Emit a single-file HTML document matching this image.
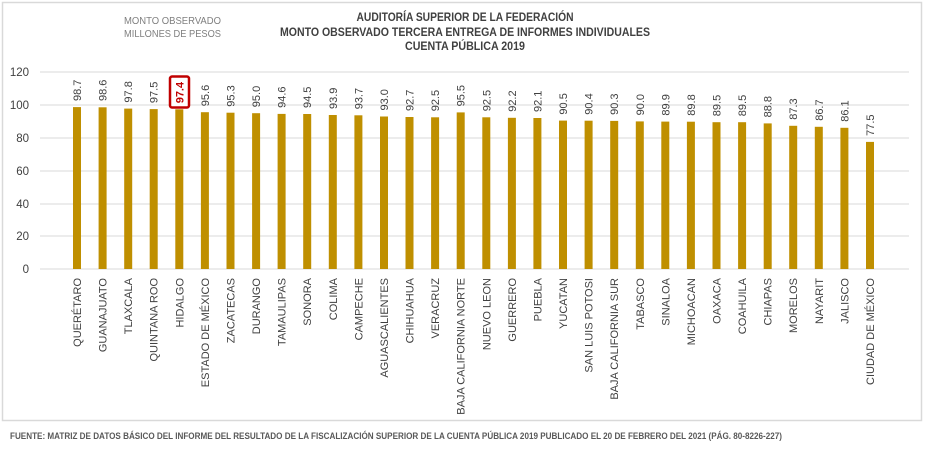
<!DOCTYPE html>
<html><head><meta charset="utf-8"><style>
html,body{margin:0;padding:0;background:#fff;}
svg{display:block;font-family:"Liberation Sans Narrow","Liberation Sans",sans-serif;}
.v{font-size:11px;fill:#404040;}
.c{font-size:11px;fill:#404040;text-anchor:end;}
.b{fill:#BF8F00;}
.g{stroke:#d9d9d9;stroke-width:1;}
.t{font-size:12px;font-weight:bold;fill:#404040;text-anchor:middle;}
.y{font-size:11.5px;fill:#404040;text-anchor:end;}
</style></head><body>
<svg width="929" height="464" viewBox="0 0 929 464">
<rect x="2.5" y="2.5" width="919" height="418" fill="#fff" stroke="#d9d9d9" stroke-width="1.5"/>
<text x="124" y="24" textLength="97" lengthAdjust="spacingAndGlyphs" style="font-size:10.5px;fill:#7f7f7f">MONTO OBSERVADO</text>
<text x="124" y="37" textLength="97" lengthAdjust="spacingAndGlyphs" style="font-size:10.5px;fill:#7f7f7f">MILLONES DE PESOS</text>
<text class="t" x="465" y="21" textLength="217" lengthAdjust="spacingAndGlyphs">AUDITORÍA SUPERIOR DE LA FEDERACIÓN</text>
<text class="t" x="465" y="36" textLength="370" lengthAdjust="spacingAndGlyphs">MONTO OBSERVADO TERCERA ENTREGA DE INFORMES INDIVIDUALES</text>
<text class="t" x="465" y="50" textLength="120" lengthAdjust="spacingAndGlyphs">CUENTA PÚBLICA 2019</text>
<line class="g" x1="40" x2="909" y1="72" y2="72"/>
<line class="g" x1="40" x2="909" y1="105" y2="105"/>
<line class="g" x1="40" x2="909" y1="138" y2="138"/>
<line class="g" x1="40" x2="909" y1="171" y2="171"/>
<line class="g" x1="40" x2="909" y1="204" y2="204"/>
<line class="g" x1="40" x2="909" y1="236" y2="236"/>
<line class="g" x1="40" x2="909" y1="269" y2="269"/>
<text class="y" x="29" y="76">120</text>
<text class="y" x="29" y="109">100</text>
<text class="y" x="29" y="142">80</text>
<text class="y" x="29" y="175">60</text>
<text class="y" x="29" y="208">40</text>
<text class="y" x="29" y="240">20</text>
<text class="y" x="29" y="273">0</text>
<g>
<rect class="b" x="73" y="107.1" width="8" height="161.9"/>
<rect class="b" x="98.6" y="107.3" width="8" height="161.7"/>
<rect class="b" x="124.2" y="108.6" width="8" height="160.4"/>
<rect class="b" x="149.7" y="109.1" width="8" height="159.9"/>
<rect class="b" x="175.3" y="109.3" width="8" height="159.7"/>
<rect class="b" x="200.9" y="112.2" width="8" height="156.8"/>
<rect class="b" x="226.5" y="112.7" width="8" height="156.3"/>
<rect class="b" x="252.1" y="113.2" width="8" height="155.8"/>
<rect class="b" x="277.6" y="113.9" width="8" height="155.1"/>
<rect class="b" x="303.2" y="114" width="8" height="155"/>
<rect class="b" x="328.8" y="115" width="8" height="154"/>
<rect class="b" x="354.4" y="115.3" width="8" height="153.7"/>
<rect class="b" x="380" y="116.5" width="8" height="152.5"/>
<rect class="b" x="405.5" y="117" width="8" height="152"/>
<rect class="b" x="431.1" y="117.3" width="8" height="151.7"/>
<rect class="b" x="456.7" y="112.4" width="8" height="156.6"/>
<rect class="b" x="482.3" y="117.3" width="8" height="151.7"/>
<rect class="b" x="507.9" y="117.8" width="8" height="151.2"/>
<rect class="b" x="533.4" y="118" width="8" height="151"/>
<rect class="b" x="559" y="120.6" width="8" height="148.4"/>
<rect class="b" x="584.6" y="120.7" width="8" height="148.3"/>
<rect class="b" x="610.2" y="120.9" width="8" height="148.1"/>
<rect class="b" x="635.8" y="121.4" width="8" height="147.6"/>
<rect class="b" x="661.3" y="121.6" width="8" height="147.4"/>
<rect class="b" x="686.9" y="121.7" width="8" height="147.3"/>
<rect class="b" x="712.5" y="122.2" width="8" height="146.8"/>
<rect class="b" x="738.1" y="122.2" width="8" height="146.8"/>
<rect class="b" x="763.7" y="123.4" width="8" height="145.6"/>
<rect class="b" x="789.2" y="125.8" width="8" height="143.2"/>
<rect class="b" x="814.8" y="126.8" width="8" height="142.2"/>
<rect class="b" x="840.4" y="127.8" width="8" height="141.2"/>
<rect class="b" x="866" y="141.9" width="8" height="127.1"/>
</g>
<rect x="170" y="76.5" width="19" height="31" rx="2" fill="#fff" stroke="#C00000" stroke-width="2.5"/>
<g>
<text class="v" transform="translate(81,101) rotate(-90)">98.7</text>
<text class="v" transform="translate(106.6,101) rotate(-90)">98.6</text>
<text class="v" transform="translate(132.2,102.6) rotate(-90)">97.8</text>
<text class="v" transform="translate(157.7,103.1) rotate(-90)">97.5</text>
<text class="v" transform="translate(183.3,103.3) rotate(-90)" style="fill:#C00000;font-weight:bold">97.4</text>
<text class="v" transform="translate(208.9,106.2) rotate(-90)">95.6</text>
<text class="v" transform="translate(234.5,106.7) rotate(-90)">95.3</text>
<text class="v" transform="translate(260.1,107.2) rotate(-90)">95.0</text>
<text class="v" transform="translate(285.6,107.9) rotate(-90)">94.6</text>
<text class="v" transform="translate(311.2,108) rotate(-90)">94.5</text>
<text class="v" transform="translate(336.8,109) rotate(-90)">93.9</text>
<text class="v" transform="translate(362.4,109.3) rotate(-90)">93.7</text>
<text class="v" transform="translate(388,110.5) rotate(-90)">93.0</text>
<text class="v" transform="translate(413.5,111) rotate(-90)">92.7</text>
<text class="v" transform="translate(439.1,111.3) rotate(-90)">92.5</text>
<text class="v" transform="translate(464.7,106.4) rotate(-90)">95.5</text>
<text class="v" transform="translate(490.3,111.3) rotate(-90)">92.5</text>
<text class="v" transform="translate(515.9,111.8) rotate(-90)">92.2</text>
<text class="v" transform="translate(541.4,112) rotate(-90)">92.1</text>
<text class="v" transform="translate(567,114.6) rotate(-90)">90.5</text>
<text class="v" transform="translate(592.6,114.7) rotate(-90)">90.4</text>
<text class="v" transform="translate(618.2,114.9) rotate(-90)">90.3</text>
<text class="v" transform="translate(643.8,115.4) rotate(-90)">90.0</text>
<text class="v" transform="translate(669.3,115.6) rotate(-90)">89.9</text>
<text class="v" transform="translate(694.9,115.7) rotate(-90)">89.8</text>
<text class="v" transform="translate(720.5,116.2) rotate(-90)">89.5</text>
<text class="v" transform="translate(746.1,116.2) rotate(-90)">89.5</text>
<text class="v" transform="translate(771.7,117.4) rotate(-90)">88.8</text>
<text class="v" transform="translate(797.2,119.8) rotate(-90)">87.3</text>
<text class="v" transform="translate(822.8,120.8) rotate(-90)">86.7</text>
<text class="v" transform="translate(848.4,121.8) rotate(-90)">86.1</text>
<text class="v" transform="translate(874,135.9) rotate(-90)">77.5</text>
</g>
<g>
<text class="c" transform="translate(81,278) rotate(-90)">QUERÉTARO</text>
<text class="c" transform="translate(106.6,278) rotate(-90)">GUANAJUATO</text>
<text class="c" transform="translate(132.2,278) rotate(-90)">TLAXCALA</text>
<text class="c" transform="translate(157.7,278) rotate(-90)">QUINTANA ROO</text>
<text class="c" transform="translate(183.3,278) rotate(-90)">HIDALGO</text>
<text class="c" transform="translate(208.9,278) rotate(-90)">ESTADO DE MÉXICO</text>
<text class="c" transform="translate(234.5,278) rotate(-90)">ZACATECAS</text>
<text class="c" transform="translate(260.1,278) rotate(-90)">DURANGO</text>
<text class="c" transform="translate(285.6,278) rotate(-90)">TAMAULIPAS</text>
<text class="c" transform="translate(311.2,278) rotate(-90)">SONORA</text>
<text class="c" transform="translate(336.8,278) rotate(-90)">COLIMA</text>
<text class="c" transform="translate(362.4,278) rotate(-90)">CAMPECHE</text>
<text class="c" transform="translate(388,278) rotate(-90)">AGUASCALIENTES</text>
<text class="c" transform="translate(413.5,278) rotate(-90)">CHIHUAHUA</text>
<text class="c" transform="translate(439.1,278) rotate(-90)">VERACRUZ</text>
<text class="c" transform="translate(464.7,278) rotate(-90)">BAJA CALIFORNIA NORTE</text>
<text class="c" transform="translate(490.3,278) rotate(-90)">NUEVO LEON</text>
<text class="c" transform="translate(515.9,278) rotate(-90)">GUERRERO</text>
<text class="c" transform="translate(541.4,278) rotate(-90)">PUEBLA</text>
<text class="c" transform="translate(567,278) rotate(-90)">YUCATAN</text>
<text class="c" transform="translate(592.6,278) rotate(-90)">SAN LUIS POTOSI</text>
<text class="c" transform="translate(618.2,278) rotate(-90)">BAJA CALIFORNIA SUR</text>
<text class="c" transform="translate(643.8,278) rotate(-90)">TABASCO</text>
<text class="c" transform="translate(669.3,278) rotate(-90)">SINALOA</text>
<text class="c" transform="translate(694.9,278) rotate(-90)">MICHOACAN</text>
<text class="c" transform="translate(720.5,278) rotate(-90)">OAXACA</text>
<text class="c" transform="translate(746.1,278) rotate(-90)">COAHUILA</text>
<text class="c" transform="translate(771.7,278) rotate(-90)">CHIAPAS</text>
<text class="c" transform="translate(797.2,278) rotate(-90)">MORELOS</text>
<text class="c" transform="translate(822.8,278) rotate(-90)">NAYARIT</text>
<text class="c" transform="translate(848.4,278) rotate(-90)">JALISCO</text>
<text class="c" transform="translate(874,278) rotate(-90)">CIUDAD DE MÉXICO</text>
</g>
<text x="10" y="439" textLength="772" lengthAdjust="spacingAndGlyphs" style="font-size:9px;font-weight:bold;fill:#595959">FUENTE: MATRIZ DE DATOS BÁSICO DEL INFORME DEL RESULTADO DE LA FISCALIZACIÓN SUPERIOR DE LA CUENTA PÚBLICA 2019 PUBLICADO EL 20 DE FEBRERO DEL 2021 (PÁG. 80-8226-227)</text>
</svg>
</body></html>
